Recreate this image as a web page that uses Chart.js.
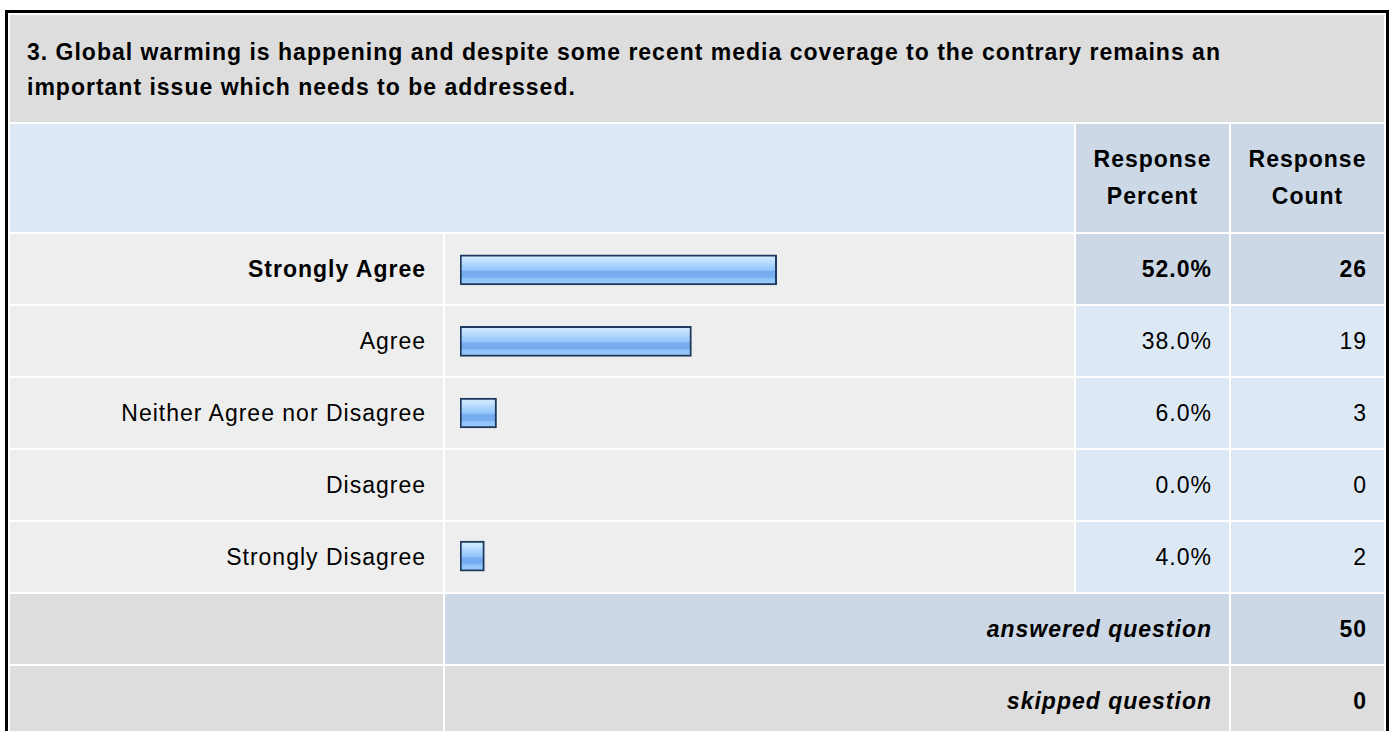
<!DOCTYPE html>
<html>
<head>
<meta charset="utf-8">
<script src="https://cdn.jsdelivr.net/npm/chart.js@4/dist/chart.umd.min.js"></script>
<style>
  body { margin: 0; background: #fff; font-family: "Liberation Sans", Arial, sans-serif; }
  #survey {
    position: absolute; left: 5px; top: 10px;
    border: 3px solid #000; border-collapse: separate; border-spacing: 2px;
    table-layout: fixed; width: 1384px; background: #fff;
    font-size: 23px; letter-spacing: 1px; color: #000;
  }
  #survey td { padding: 0 17px; vertical-align: middle; overflow: hidden; white-space: nowrap; }
  .title td { background: #dddddd; font-weight: bold; line-height: 35px; padding-top: 2px !important; white-space: normal !important; }
  .head td { background: #dde8f5; }
  .head td.hd { background: #ccd8e6; font-weight: bold; text-align: center; line-height: 37px; white-space: normal !important; }
  .data td { background: #eeeeee; }
  .data td.lbl { text-align: right; }
  .data td.num { background: #dde8f5; text-align: right; }
  .data.top td { font-weight: bold; }
  .data.top td.num { background: #ccd8e6; }
  .foot td { background: #dddddd; text-align: right; font-weight: bold; }
  .foot td.sum { font-style: italic; }
  .foot.answered td.sum, .foot.answered td.cnt { background: #ccd8e6; }
  #barBox { position: absolute; }
</style>
</head>
<body>
<table id="survey">
  <colgroup>
    <col style="width:433px"><col style="width:629px"><col style="width:153px"><col style="width:153px">
  </colgroup>
  <tbody id="rows">
    <tr class="title" style="height:107px">
      <td colspan="4">3. Global warming is happening and despite some recent media coverage to the contrary remains an<br>important issue which needs to be addressed.</td>
    </tr>
    <tr class="head" style="height:108px">
      <td colspan="2"></td>
      <td class="hd">Response<br>Percent</td>
      <td class="hd">Response<br>Count</td>
    </tr>
  </tbody>
</table>
<div id="barBox"><canvas id="barChart"></canvas></div>
<script>
// Question 3 - responses
const categories = ["Strongly Agree", "Agree", "Neither Agree nor Disagree", "Disagree", "Strongly Disagree"];
const percents = [52.0, 38.0, 6.0, 0.0, 4.0];
const counts = [26, 19, 3, 0, 2];
const answered = 50;
const skipped = 0;

const tbody = document.getElementById("rows");
const topValue = Math.max(...percents);

categories.forEach(function (name, i) {
  const tr = document.createElement("tr");
  tr.className = "data" + (percents[i] === topValue ? " top" : "");
  tr.style.height = "70px";
  tr.innerHTML =
    '<td class="lbl"></td><td class="bar"></td>' +
    '<td class="num">' + percents[i].toFixed(1) + '%</td>' +
    '<td class="num">' + counts[i] + '</td>';
  tr.firstChild.textContent = name;
  tbody.appendChild(tr);
});

[["answered", "answered question", answered], ["skipped", "skipped question", skipped]].forEach(function (f) {
  const tr = document.createElement("tr");
  tr.className = "foot " + f[0];
  tr.style.height = "70px";
  tr.innerHTML = '<td></td><td class="sum" colspan="2">' + f[1] + '</td><td class="cnt">' + f[2] + '</td>';
  tbody.appendChild(tr);
});

// lay the chart over the bar column of the five answer rows
const barCells = document.querySelectorAll("td.bar");
const r1 = barCells[0].getBoundingClientRect();
const r2 = barCells[barCells.length - 1].getBoundingClientRect();
const box = document.getElementById("barBox");
box.style.left = r1.left + "px";
box.style.top = r1.top + "px";
box.style.width = r1.width + "px";
box.style.height = (r2.bottom - r1.top) + "px";

function barFill(ctx) {
  const chart = ctx.chart;
  const y = chart.scales && chart.scales.y;
  if (!chart.chartArea || !y) return "#96c8fb";
  const c = y.getPixelForValue(ctx.dataIndex);
  const g = chart.ctx.createLinearGradient(0, c - 15, 0, c + 15);
  g.addColorStop(0, "#d6ebff");
  g.addColorStop(0.2, "#c2e0fd");
  g.addColorStop(0.35, "#a6d1fc");
  g.addColorStop(0.5, "#96c7fb");
  g.addColorStop(0.56, "#76adf0");
  g.addColorStop(0.74, "#76adf0");
  g.addColorStop(0.8, "#90c4fa");
  g.addColorStop(1, "#9ccbfb");
  return g;
}

new Chart(document.getElementById("barChart"), {
  type: "bar",
  data: {
    labels: categories,
    datasets: [{
      data: percents,
      backgroundColor: barFill,
      borderColor: "#1d3a5e",
      borderWidth: 2,
      borderSkipped: false,
      barThickness: 30
    }]
  },
  options: {
    indexAxis: "y",
    responsive: true,
    maintainAspectRatio: false,
    animation: false,
    events: [],
    layout: { padding: { left: 15, right: 5, top: 0, bottom: 0 } },
    plugins: { legend: { display: false }, tooltip: { enabled: false } },
    scales: {
      x: { display: false, min: 0, max: 100 },
      y: { display: false }
    }
  }
});
</script>
</body>
</html>
